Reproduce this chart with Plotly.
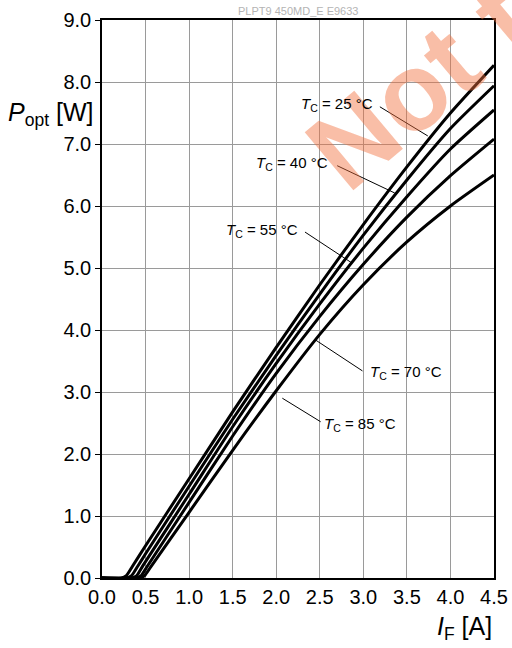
import plotly.graph_objects as go

# ---- data (I_F in A, P_opt in W) ----
I_25 = [0.0, 0.22, 0.28, 0.35, 0.5, 1.0, 1.5, 2.0, 2.5, 3.0, 3.5, 4.0, 4.5]
P_25 = [0.0, 0.0, 0.04, 0.19, 0.52, 1.60, 2.68, 3.72, 4.73, 5.70, 6.63, 7.50, 8.27]

I_40 = [0.0, 0.28, 0.34, 0.41, 0.5, 1.0, 1.5, 2.0, 2.5, 3.0, 3.5, 4.0, 4.5]
P_40 = [0.0, 0.0, 0.04, 0.19, 0.39, 1.48, 2.56, 3.59, 4.58, 5.53, 6.42, 7.25, 7.94]

I_55 = [0.0, 0.34, 0.40, 0.47, 1.0, 1.5, 2.0, 2.5, 3.0, 3.5, 4.0, 4.5]
P_55 = [0.0, 0.0, 0.04, 0.20, 1.35, 2.44, 3.46, 4.42, 5.32, 6.15, 6.92, 7.55]

I_70 = [0.0, 0.39, 0.45, 0.52, 1.0, 1.5, 2.0, 2.5, 3.0, 3.5, 4.0, 4.5]
P_70 = [0.0, 0.0, 0.04, 0.19, 1.22, 2.29, 3.30, 4.22, 5.06, 5.82, 6.49, 7.08]

I_85 = [0.0, 0.43, 0.49, 0.56, 1.0, 1.5, 2.0, 2.5, 3.0, 3.5, 4.0, 4.5]
P_85 = [0.0, 0.0, 0.04, 0.18, 1.06, 2.06, 3.02, 3.93, 4.73, 5.42, 6.00, 6.50]

x_ticks = [0.0, 0.5, 1.0, 1.5, 2.0, 2.5, 3.0, 3.5, 4.0, 4.5]
y_ticks = [0.0, 1.0, 2.0, 3.0, 4.0, 5.0, 6.0, 7.0, 8.0, 9.0]

# label text anchor (I, P), pointer start (I, P), pointer end on curve (I, P)
label_temps = ["25", "40", "55", "70", "85"]
label_pos = [(3.13, 7.63), (2.62, 6.68), (2.27, 5.61), (3.05, 3.32), (2.53, 2.48)]
label_anchor = ["right", "right", "right", "left", "left"]
ptr_start = [(3.19, 7.60), (2.70, 6.65), (2.33, 5.58), (2.99, 3.34), (2.51, 2.52)]
ptr_end = [(3.74, 7.13), (3.36, 6.21), (2.87, 5.08), (2.45, 3.84), (2.07, 2.90)]

FONT = "Liberation Sans, Arial, sans-serif"

fig = go.Figure()
for xs, ys in [(I_25, P_25), (I_40, P_40), (I_55, P_55), (I_70, P_70), (I_85, P_85)]:
    fig.add_trace(go.Scatter(x=xs, y=ys, mode="lines",
                             line=dict(color="black", width=3, shape="spline", smoothing=0.6),
                             showlegend=False, hoverinfo="skip"))

# watermark
fig.add_annotation(text="<b>Not for new design</b>", xref="paper", yref="paper",
                   x=1.53, y=1.31, xanchor="center", yanchor="middle", textangle=-40,
                   showarrow=False, font=dict(family=FONT, size=110, color="rgba(242,110,60,0.45)"))

for t, (lx, ly), anc, (sx, sy), (ex, ey) in zip(label_temps, label_pos, label_anchor, ptr_start, ptr_end):
    fig.add_annotation(text=f"<i>T</i><sub>C</sub> = {t} °C", x=lx, y=ly, xanchor=anc, yanchor="middle",
                       showarrow=False, font=dict(family=FONT, size=15, color="black"))
    fig.add_shape(type="line", x0=sx, y0=sy, x1=ex, y1=ey, xref="x", yref="y",
                  line=dict(color="black", width=1))

# axis titles
fig.add_annotation(text="<i>P</i><sub>opt</sub> [W]", xref="paper", yref="paper", x=-0.245, y=0.832,
                   xanchor="left", yanchor="middle", showarrow=False,
                   font=dict(family=FONT, size=25, color="black"))
fig.add_annotation(text="<i>I</i><sub>F</sub> [A]", xref="paper", yref="paper", x=1.0, y=-0.058,
                   xanchor="right", yanchor="top", showarrow=False,
                   font=dict(family=FONT, size=25, color="black"))
fig.add_annotation(text="PLPT9 450MD_E E9633", xref="paper", yref="paper", x=0.5, y=1.0,
                   xanchor="center", yanchor="bottom", yshift=1, showarrow=False,
                   font=dict(family=FONT, size=11, color="#b4b4b4"))

fig.update_layout(
    width=512, height=648,
    margin=dict(l=102, r=18, t=20, b=70),
    paper_bgcolor="white", plot_bgcolor="white",
    font=dict(family=FONT, size=20, color="black"),
    xaxis=dict(range=[0, 4.5], tickvals=x_ticks, ticktext=[f"{v:.1f}" for v in x_ticks],
               showgrid=True, gridcolor="#9a9a9a", gridwidth=1, zeroline=False,
               showline=True, linecolor="black", linewidth=1.5, mirror=True, automargin=False,
               ticks="", tickfont=dict(size=20)),
    yaxis=dict(range=[0, 9], tickvals=y_ticks, ticktext=[f"{v:.1f}" for v in y_ticks],
               showgrid=True, gridcolor="#9a9a9a", gridwidth=1, zeroline=False,
               showline=True, linecolor="black", linewidth=1.5, mirror=True, automargin=False,
               ticks="outside", ticklen=5, tickcolor="black", tickfont=dict(size=20)),
)

fig.write_html("out.html", config={"displayModeBar": False, "responsive": False},
               post_script="document.body.style.margin='0';document.body.style.overflow='hidden';")
